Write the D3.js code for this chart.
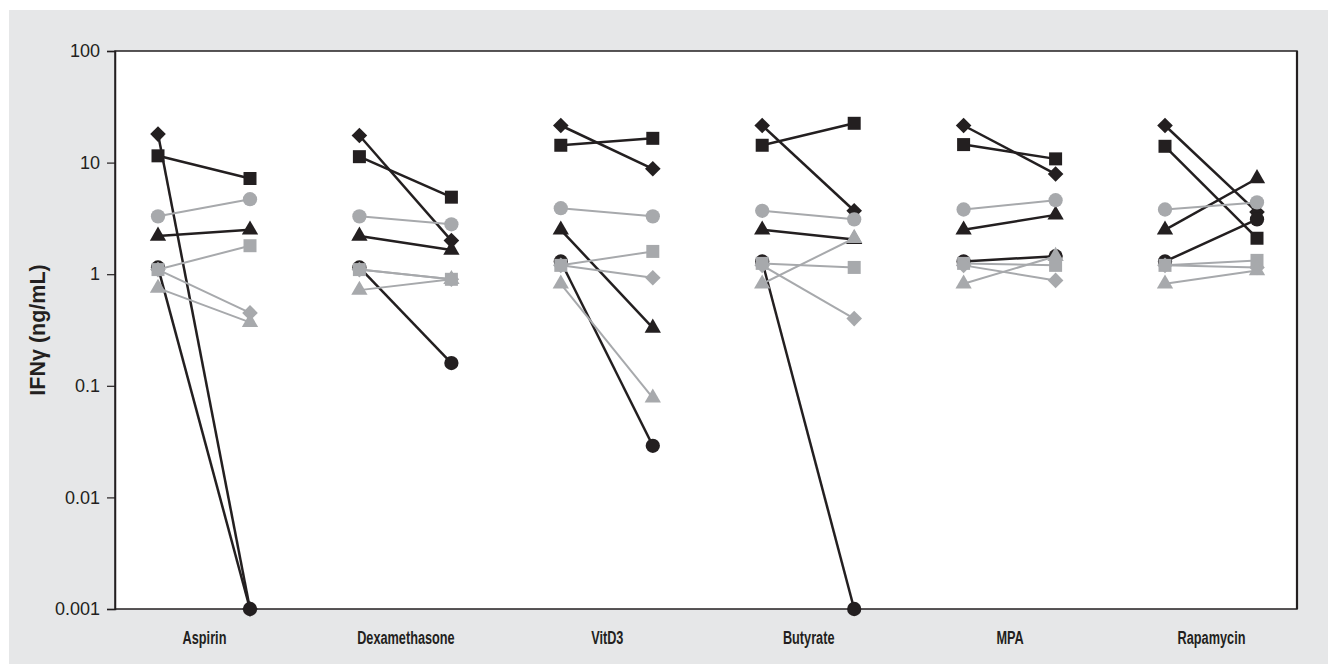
<!DOCTYPE html>
<html>
<head>
<meta charset="utf-8">
<script src="https://cdn.jsdelivr.net/npm/d3@7"></script>
<style>
  html, body { margin: 0; padding: 0; background: #ffffff; }
  svg { display: block; }
</style>
</head>
<body>
<svg id="chart" width="1328" height="664"></svg>
<script>
// ---------- DATA ----------
const groups = ["Aspirin", "Dexamethasone", "VitD3", "Butyrate", "MPA", "Rapamycin"];
const phases = ["pre", "post"];
const yTicks = [0.001, 0.01, 0.1, 1, 10, 100];
const yTickLabels = ["0.001", "0.01", "0.1", "1", "10", "100"];
const yTitle = "IFNγ (ng/mL)";

// values per series: [group1 pre, group1 post, group2 pre, group2 post, ...]
const blackDiamond  = [18, 0.001, 17.5, 2.0, 21.5, 8.8, 21.5, 3.7, 21.5, 7.9, 21.5, 3.6];
const blackSquare   = [11.5, 7.2, 11.3, 4.9, 14.3, 16.5, 14.3, 22.5, 14.5, 10.8, 14, 2.1];
const blackTriangle = [2.2, 2.5, 2.2, 1.65, 2.5, 0.33, 2.5, 2.05, 2.5, 3.4, 2.5, 7.2];
const blackCircle   = [1.15, 0.001, 1.15, 0.16, 1.3, 0.029, 1.3, 0.001, 1.3, 1.45, 1.3, 3.1];
const greyCircle    = [3.3, 4.7, 3.3, 2.8, 3.9, 3.3, 3.7, 3.1, 3.8, 4.6, 3.8, 4.4];
const greySquare    = [1.1, 1.8, 1.1, 0.9, 1.2, 1.6, 1.25, 1.15, 1.25, 1.2, 1.2, 1.33];
const greyDiamond   = [1.1, 0.45, 1.1, 0.9, 1.2, 0.93, 1.2, 0.40, 1.2, 0.88, 1.2, 1.15];
const greyTriangle  = [0.75, 0.37, 0.72, 0.9, 0.82, 0.078, 0.82, 2.1, 0.82, 1.45, 0.82, 1.08];

// ---------- STYLE ----------
const BLACK = "#231f20";
const GREY = "#a7a9ac";
const series = [
  { values: blackDiamond,  shape: "diamond",  color: BLACK, width: 2.5 },
  { values: blackSquare,   shape: "square",   color: BLACK, width: 2.5 },
  { values: blackTriangle, shape: "triangle", color: BLACK, width: 2.5 },
  { values: blackCircle,   shape: "circle",   color: BLACK, width: 2.5 },
  { values: greyCircle,    shape: "circle",   color: GREY,  width: 2 },
  { values: greySquare,    shape: "square",   color: GREY,  width: 2 },
  { values: greyDiamond,   shape: "diamond",  color: GREY,  width: 2 },
  { values: greyTriangle,  shape: "triangle", color: GREY,  width: 2 }
];

const svg = d3.select("#chart");
const W = 1328, H = 664;
const plot = { left: 115, right: 1297, top: 51, bottom: 609 };

// background panel
svg.append("rect").attr("x", 9).attr("y", 10).attr("width", W - 9).attr("height", H - 10)
  .attr("fill", "#e6e7e8");

// plot area
svg.append("rect")
  .attr("x", plot.left).attr("y", plot.top)
  .attr("width", plot.right - plot.left).attr("height", plot.bottom - plot.top)
  .attr("fill", "#ffffff").attr("stroke", BLACK).attr("stroke-width", 1.5);
svg.append("line")
  .attr("x1", plot.right).attr("x2", plot.right)
  .attr("y1", plot.top).attr("y2", plot.bottom)
  .attr("stroke", BLACK).attr("stroke-width", 2.2);

// scales
const xGroup = d3.scalePoint().domain(groups).range([204, 1211]);
const xPhase = d3.scalePoint().domain(phases).range([-46, 46]);
const y = d3.scaleLog().domain([0.001, 100]).range([plot.bottom, plot.top]);

// y axis
const yAxis = d3.axisLeft(y).tickValues(yTicks)
  .tickFormat((d, i) => yTickLabels[i]).tickSize(8).tickPadding(7);
const gy = svg.append("g").attr("transform", `translate(${plot.left},0)`).call(yAxis);
gy.select(".domain").attr("stroke", BLACK).attr("stroke-width", 1.5);
gy.selectAll(".tick line").attr("stroke", BLACK).attr("stroke-width", 1.2);
gy.selectAll(".tick text")
  .attr("fill", BLACK)
  .style("font-family", "'Liberation Sans', Arial, sans-serif")
  .style("font-size", "18px");

// x category labels (condensed look)
const xAxis = d3.axisBottom(xGroup).tickSize(0).tickPadding(22);
const gx = svg.append("g").attr("transform", `translate(0,${plot.bottom})`).call(xAxis);
gx.select(".domain").remove();
gx.selectAll(".tick text")
  .attr("fill", BLACK)
  .attr("transform", "scale(0.67,1)")
  .style("font-family", "'Liberation Sans', Arial, sans-serif")
  .style("font-weight", "bold")
  .style("font-size", "19px");

// y title
svg.append("text")
  .attr("transform", `translate(45,330) rotate(-90)`)
  .attr("text-anchor", "middle")
  .attr("fill", BLACK)
  .style("font-family", "'Liberation Sans', Arial, sans-serif")
  .style("font-weight", "bold")
  .style("font-size", "21.5px")
  .text(yTitle);

// symbols
const symbolFor = {
  square: d3.symbol().type(d3.symbolSquare).size(169),
  circle: d3.symbol().type(d3.symbolCircle).size(160),
  diamond: d3.symbol().type(d3.symbolSquare).size(122),
  triangle: d3.symbol().type(d3.symbolTriangle).size(115)
};

const g = svg.append("g");
series.forEach(s => {
  groups.forEach((grp, gi) => {
    const pts = phases.map((p, pi) => ({
      x: xGroup(grp) + xPhase(p),
      y: y(s.values[gi * 2 + pi])
    }));
    g.append("path")
      .attr("d", d3.line().x(d => d.x).y(d => d.y)(pts))
      .attr("fill", "none").attr("stroke", s.color).attr("stroke-width", s.width);
    pts.forEach(pt => {
      const rot = s.shape === "diamond" ? " rotate(45)" : "";
      g.append("path")
        .attr("d", symbolFor[s.shape]())
        .attr("transform", `translate(${pt.x},${pt.y})${rot}`)
        .attr("fill", s.color);
    });
  });
});
</script>
</body>
</html>
